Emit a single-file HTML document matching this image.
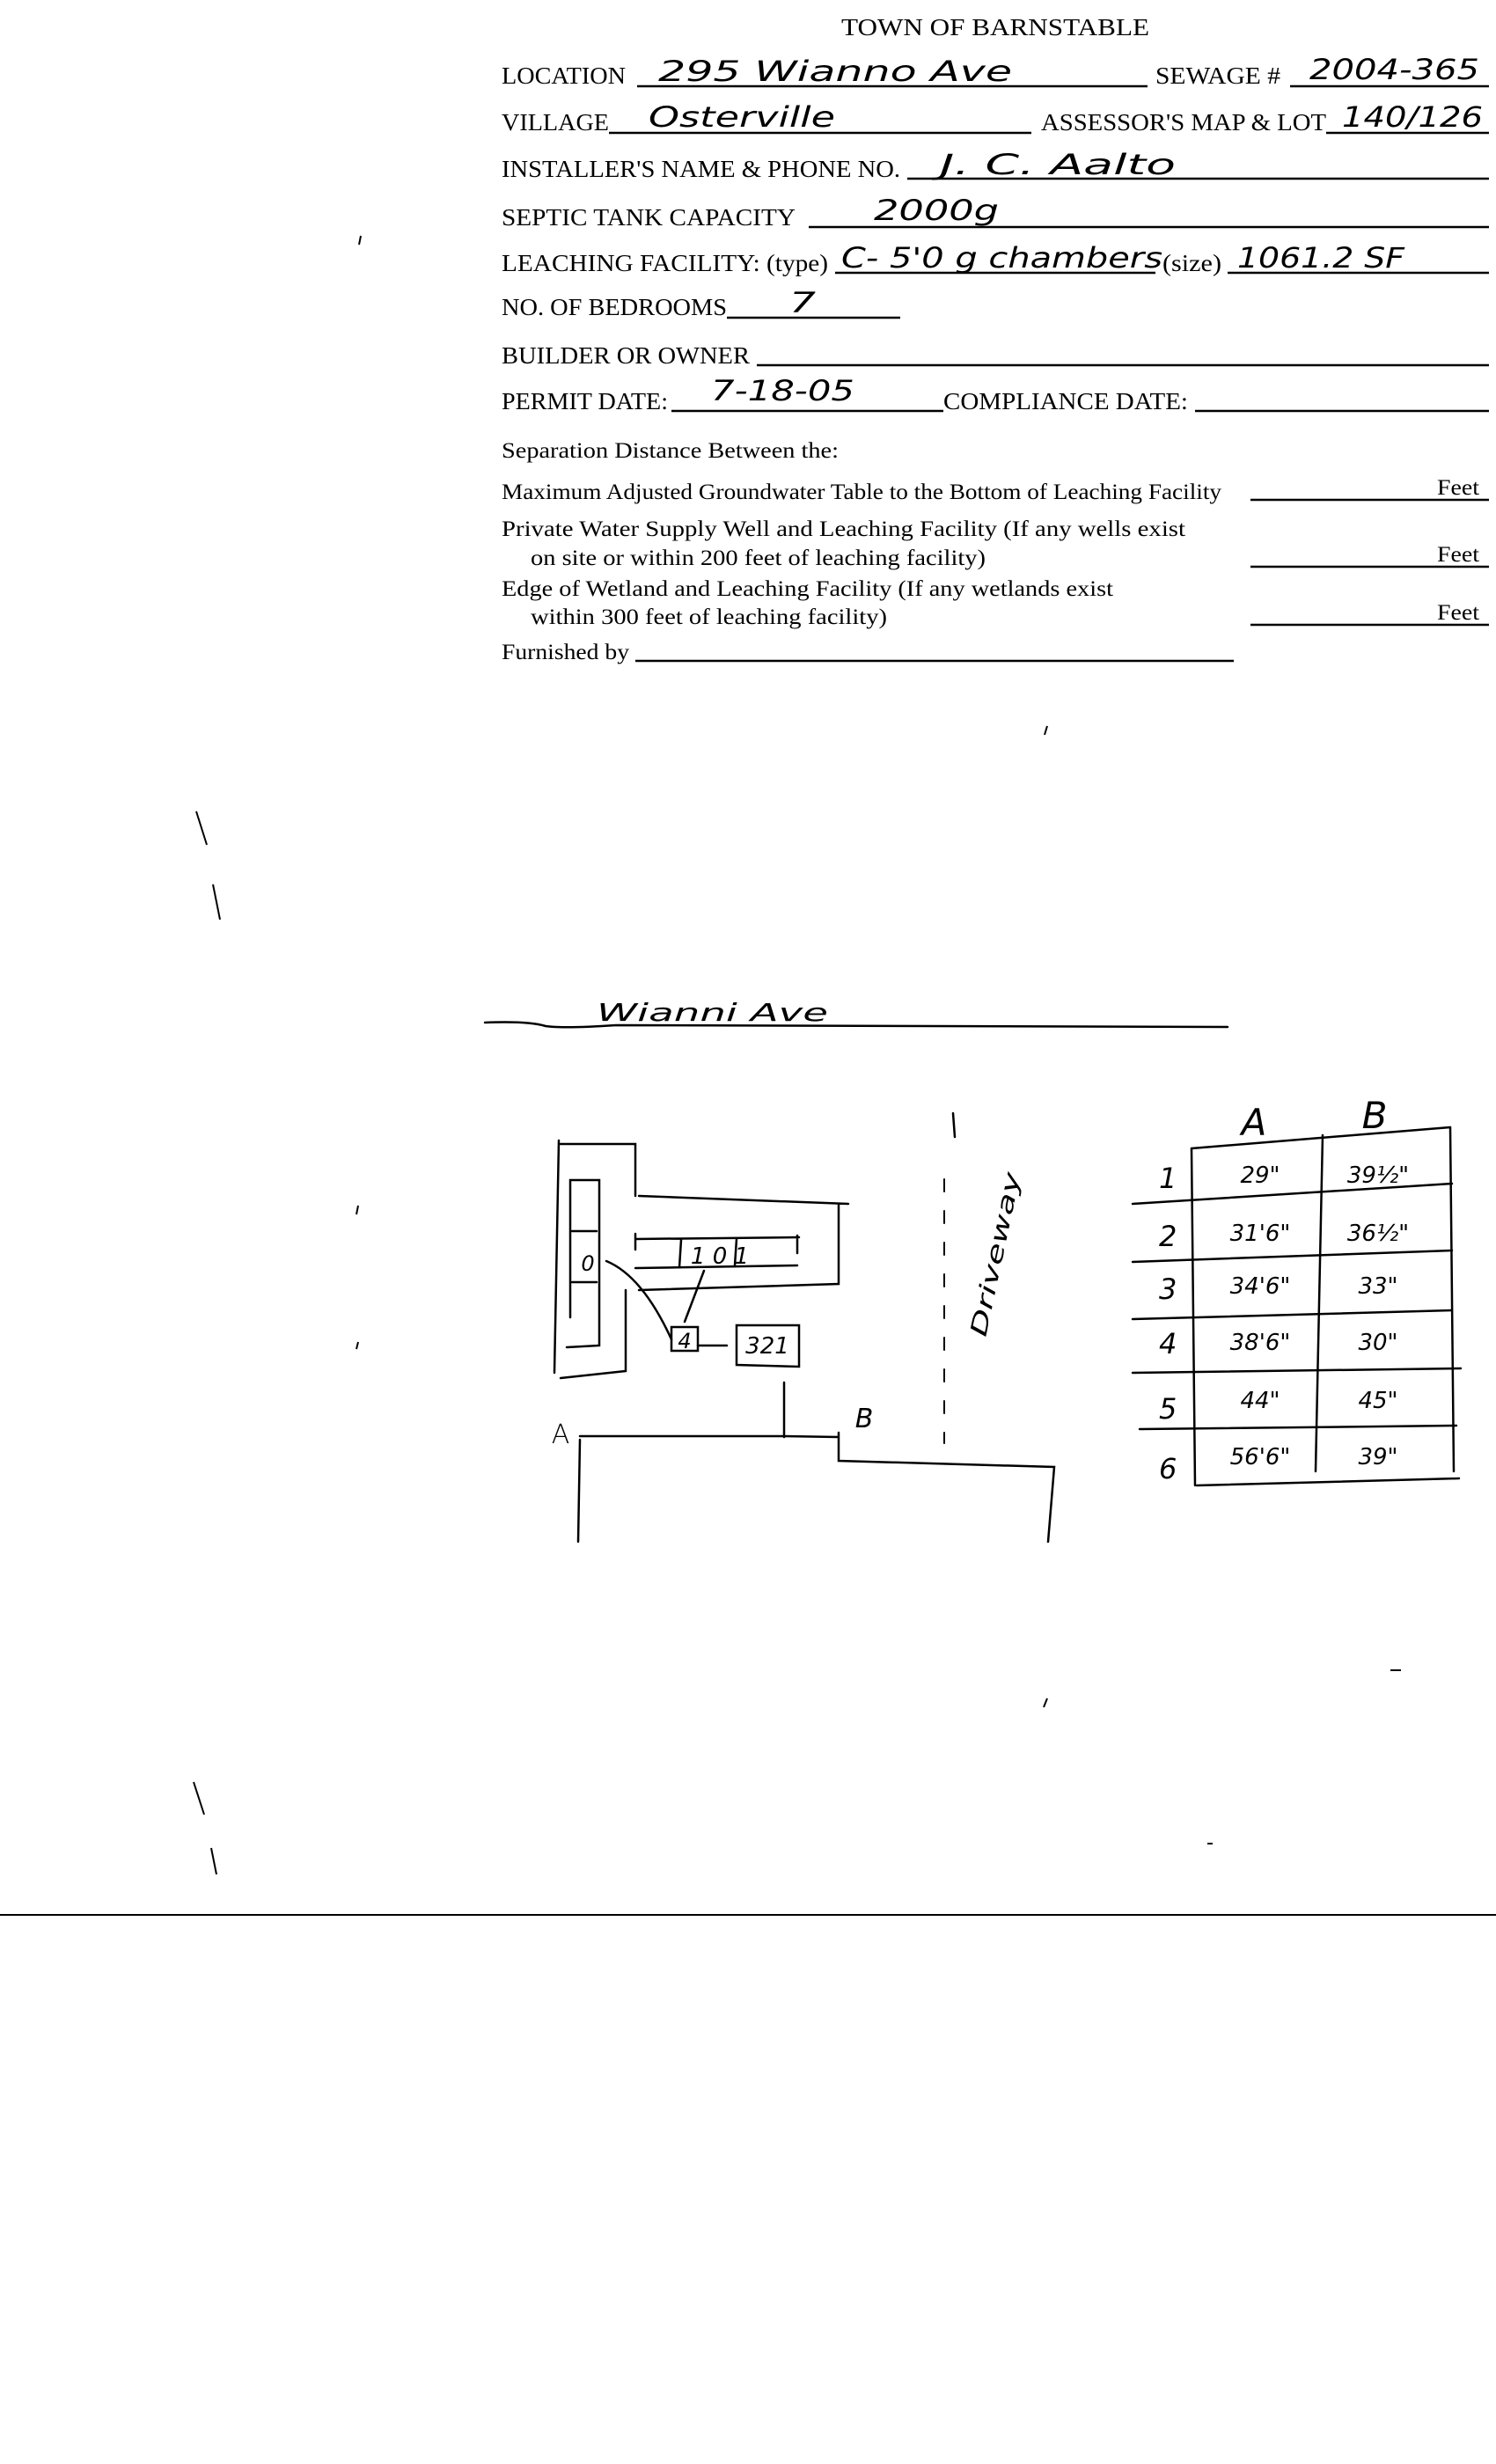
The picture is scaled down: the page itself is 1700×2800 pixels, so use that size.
<!DOCTYPE html>
<html><head><meta charset="utf-8"><style>
html,body{margin:0;padding:0;background:#fff;}
svg{display:block;}
.p{font-family:"Liberation Serif",serif;font-size:27px;fill:#000;}
.s{font-family:"Liberation Serif",serif;font-size:25px;fill:#000;}
.h{font-family:"DejaVu Sans ExtraLight","DejaVu Sans","Liberation Sans",sans-serif;font-weight:200;font-style:italic;font-size:32px;fill:#000;}
</style></head><body>
<svg width="1700" height="2800" viewBox="0 0 1700 2800" xmlns="http://www.w3.org/2000/svg">
<rect width="1700" height="2800" fill="#fff"/>
<g stroke="#000" stroke-width="2.5" fill="none">
<line x1="724" y1="98" x2="1304" y2="98"/><line x1="1466" y1="98" x2="1692" y2="98"/>
<line x1="692" y1="151" x2="1172" y2="151"/><line x1="1507" y1="151" x2="1692" y2="151"/>
<line x1="1031" y1="203" x2="1692" y2="203"/>
<line x1="919" y1="258" x2="1692" y2="258"/>
<line x1="949" y1="310" x2="1313" y2="310"/><line x1="1395" y1="310" x2="1692" y2="310"/>
<line x1="826" y1="361" x2="1023" y2="361"/>
<line x1="860" y1="415" x2="1692" y2="415"/>
<line x1="763" y1="467" x2="1072" y2="467"/><line x1="1358" y1="467" x2="1692" y2="467"/>
<line x1="1421" y1="568" x2="1692" y2="568"/>
<line x1="1421" y1="644" x2="1692" y2="644"/>
<line x1="1421" y1="710" x2="1692" y2="710"/>
<line x1="722" y1="751" x2="1402" y2="751"/>
<line x1="0" y1="2176" x2="1700" y2="2176" stroke-width="2"/>
</g>
<text class="p" x="956" y="40" textLength="350" lengthAdjust="spacingAndGlyphs">TOWN OF BARNSTABLE</text>
<text class="p" x="570" y="95" textLength="141" lengthAdjust="spacingAndGlyphs">LOCATION</text>
<text class="p" x="1313" y="95" textLength="142" lengthAdjust="spacingAndGlyphs">SEWAGE #</text>
<text class="p" x="570" y="148" textLength="122" lengthAdjust="spacingAndGlyphs">VILLAGE</text>
<text class="p" x="1183" y="148" textLength="324" lengthAdjust="spacingAndGlyphs">ASSESSOR'S MAP &amp; LOT</text>
<text class="p" x="570" y="201" textLength="453" lengthAdjust="spacingAndGlyphs">INSTALLER'S NAME &amp; PHONE NO.</text>
<text class="p" x="570" y="256" textLength="334" lengthAdjust="spacingAndGlyphs">SEPTIC TANK CAPACITY</text>
<text class="p" x="570" y="308" textLength="371" lengthAdjust="spacingAndGlyphs">LEACHING FACILITY: (type)</text>
<text class="p" x="1321" y="308" textLength="67" lengthAdjust="spacingAndGlyphs">(size)</text>
<text class="p" x="570" y="358" textLength="256" lengthAdjust="spacingAndGlyphs">NO. OF BEDROOMS</text>
<text class="p" x="570" y="413" textLength="282" lengthAdjust="spacingAndGlyphs">BUILDER OR OWNER</text>
<text class="p" x="570" y="465" textLength="189" lengthAdjust="spacingAndGlyphs">PERMIT DATE:</text>
<text class="p" x="1072" y="465" textLength="278" lengthAdjust="spacingAndGlyphs">COMPLIANCE  DATE:</text>
<text class="s" x="570" y="520" textLength="383" lengthAdjust="spacingAndGlyphs">Separation Distance Between the:</text>
<text class="s" x="570" y="567" textLength="818" lengthAdjust="spacingAndGlyphs">Maximum Adjusted Groundwater Table to the Bottom of Leaching Facility</text>
<text class="s" x="1633" y="562" textLength="48" lengthAdjust="spacingAndGlyphs">Feet</text>
<text class="s" x="570" y="609" textLength="777" lengthAdjust="spacingAndGlyphs">Private Water Supply Well and Leaching Facility  (If any wells exist</text>
<text class="s" x="603" y="642" textLength="517" lengthAdjust="spacingAndGlyphs">on site or within 200 feet of leaching facility)</text>
<text class="s" x="1633" y="638" textLength="48" lengthAdjust="spacingAndGlyphs">Feet</text>
<text class="s" x="570" y="677" textLength="695" lengthAdjust="spacingAndGlyphs">Edge of Wetland and Leaching Facility (If any wetlands exist</text>
<text class="s" x="603" y="709" textLength="405" lengthAdjust="spacingAndGlyphs">within 300 feet of leaching facility)</text>
<text class="s" x="1633" y="704" textLength="48" lengthAdjust="spacingAndGlyphs">Feet</text>
<text class="s" x="570" y="749" textLength="145" lengthAdjust="spacingAndGlyphs">Furnished by</text>
<!-- handwriting -->
<text class="h" x="748" y="92" textLength="402" lengthAdjust="spacingAndGlyphs">295  Wianno  Ave</text>
<text class="h" x="1488" y="90" textLength="193" lengthAdjust="spacingAndGlyphs">2004-365</text>
<text class="h" x="737" y="144" textLength="212" lengthAdjust="spacingAndGlyphs">Osterville</text>
<text class="h" x="1525" y="144" textLength="160" lengthAdjust="spacingAndGlyphs">140/126</text>
<text class="h" x="1068" y="198" textLength="268" lengthAdjust="spacingAndGlyphs">J. C.  Aalto</text>
<text class="h" x="993" y="250" textLength="142" lengthAdjust="spacingAndGlyphs">2000g</text>
<text class="h" x="956" y="304" textLength="365" lengthAdjust="spacingAndGlyphs">C- 5'0 g chambers</text>
<text class="h" x="1406" y="304" textLength="190" lengthAdjust="spacingAndGlyphs">1061.2 SF</text>
<text class="h" x="897" y="355" textLength="30" lengthAdjust="spacingAndGlyphs">7</text>
<text class="h" x="808" y="455" textLength="163" lengthAdjust="spacingAndGlyphs">7-18-05</text>
<!-- sketch -->
<g stroke="#000" stroke-width="2.5" fill="none" stroke-linecap="round">
<path d="M551 1162 Q600 1160 620 1166 Q640 1169 700 1165 L1395 1167"/>
<path d="M637 1300 L722 1300 L722 1359 M726 1359 L964 1368 M953 1368 L953 1459 L726 1466 M711 1466 L711 1558 L637 1566"/>
<path d="M635 1296 L630 1560"/>
<path d="M648 1497 L648 1341 L681 1341 L681 1529 L644 1531"/>
<path d="M650 1399 L678 1399 M650 1457 L678 1457"/>
<path d="M722 1408 L908 1406 M722 1441 L906 1438 M722 1402 L722 1420 M906 1404 L906 1424 M774 1409 L772 1440 M837 1408 L835 1438"/>
<path d="M800 1444 L778 1502"/>
<path d="M689 1433 Q730 1450 763 1522"/>
<rect x="763" y="1508" width="30" height="27"/>
<path d="M793 1529 L826 1529"/>
<path d="M837 1506 L908 1506 L908 1553 L837 1551 Z"/>
<path d="M891 1571 L891 1633"/>
<path d="M659 1632 L891 1632 L953 1633 M953 1628 L953 1660 L1198 1667 L1191 1752"/>
<path d="M659 1636 L657 1752"/>
<path d="M1083 1265 L1085 1292" />
<path d="M1073 1340 L1073 1640" stroke-dasharray="14 22" stroke-width="2"/>
<path d="M1354 1305 L1648 1281 M1287 1368 L1650 1345 M1287 1434 L1650 1421 M1287 1499 L1650 1489 M1287 1560 L1660 1555 M1295 1624 L1655 1620 M1360 1688 L1658 1680"/>
<path d="M1354 1305 L1358 1688 M1503 1290 L1495 1672 M1648 1281 L1652 1672"/>
</g>
<text class="h" x="678" y="1160" textLength="263" lengthAdjust="spacingAndGlyphs" style="font-size:28px">Wianni   Ave</text>
<text class="h" x="668" y="1444" style="font-size:24px" text-anchor="middle">0</text>
<text class="h" x="818" y="1436" style="font-size:26px" text-anchor="middle">1   0   1</text>
<text class="h" x="778" y="1532" style="font-size:24px" text-anchor="middle">4</text>
<text class="h" x="872" y="1538" style="font-size:26px" text-anchor="middle">321</text>
<text class="h" x="637" y="1640" style="font-size:30px;font-style:normal" text-anchor="middle">A</text>
<text class="h" x="982" y="1622" style="font-size:30px" text-anchor="middle">B</text>
<text class="h" x="0" y="0" style="font-size:26px" transform="translate(1120,1520) rotate(-78)" textLength="190" lengthAdjust="spacingAndGlyphs">Driveway</text>
<text class="h" x="1425" y="1290" style="font-size:42px" text-anchor="middle">A</text>
<text class="h" x="1562" y="1282" style="font-size:42px" text-anchor="middle">B</text>
<text class="h" x="1317" y="1350" style="font-size:32px">1</text>
<text class="h" x="1317" y="1416" style="font-size:32px">2</text>
<text class="h" x="1317" y="1476" style="font-size:32px">3</text>
<text class="h" x="1317" y="1538" style="font-size:32px">4</text>
<text class="h" x="1317" y="1612" style="font-size:32px">5</text>
<text class="h" x="1317" y="1680" style="font-size:32px">6</text>
<text class="h" x="1432" y="1344" style="font-size:26px" text-anchor="middle">29"</text>
<text class="h" x="1566" y="1344" style="font-size:26px" text-anchor="middle">39½"</text>
<text class="h" x="1432" y="1410" style="font-size:26px" text-anchor="middle">31'6"</text>
<text class="h" x="1566" y="1410" style="font-size:26px" text-anchor="middle">36½"</text>
<text class="h" x="1432" y="1470" style="font-size:26px" text-anchor="middle">34'6"</text>
<text class="h" x="1566" y="1470" style="font-size:26px" text-anchor="middle">33"</text>
<text class="h" x="1432" y="1534" style="font-size:26px" text-anchor="middle">38'6"</text>
<text class="h" x="1566" y="1534" style="font-size:26px" text-anchor="middle">30"</text>
<text class="h" x="1432" y="1600" style="font-size:26px" text-anchor="middle">44"</text>
<text class="h" x="1566" y="1600" style="font-size:26px" text-anchor="middle">45"</text>
<text class="h" x="1432" y="1664" style="font-size:26px" text-anchor="middle">56'6"</text>
<text class="h" x="1566" y="1664" style="font-size:26px" text-anchor="middle">39"</text>
<g stroke="#000" stroke-width="2" fill="none">
<path d="M223 922 L235 960 M242 1005 L250 1045 M220 2025 L232 2062 M240 2100 L246 2130"/>
<path d="M407 1370 L405 1380 M407 1525 L405 1533 M410 268 L408 278 M1190 825 L1187 835 M1190 1930 L1186 1940 M1372 2095 L1378 2095 M1580 1898 L1592 1898"/>
</g>
</svg>
</body></html>
